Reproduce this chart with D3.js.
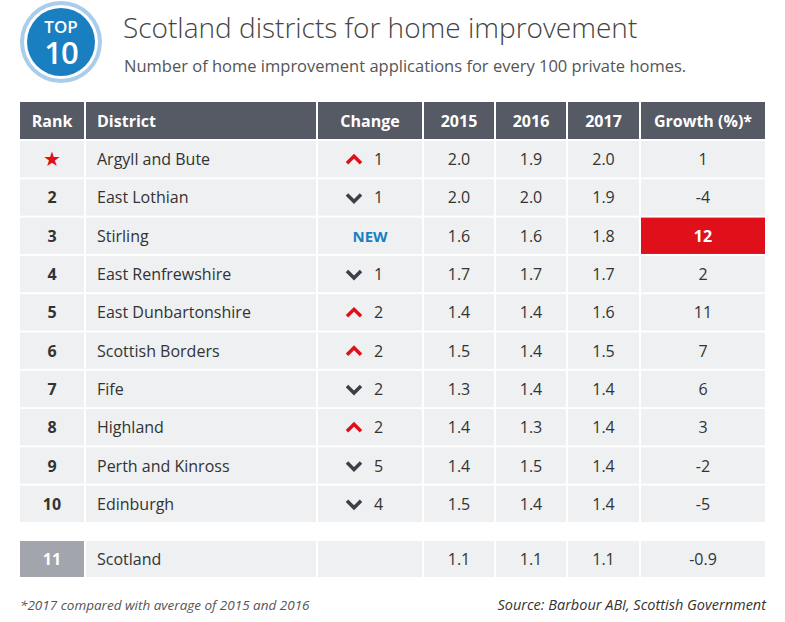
<!DOCTYPE html>
<html><head><meta charset="utf-8">
<script src="https://cdn.jsdelivr.net/npm/d3@7"></script>
<style>body{margin:0;background:#fff;font-family:"Open Sans","Noto Sans",sans-serif}</style>
</head><body><svg id="c" width="785" height="622"></svg>
<script>
const ranks = ['★','2','3','4','5','6','7','8','9','10'];
const districts = ['Argyll and Bute','East Lothian','Stirling','East Renfrewshire','East Dunbartonshire','Scottish Borders','Fife','Highland','Perth and Kinross','Edinburgh'];
const changeDir = ['up','down','new','down','up','up','down','up','down','down'];
const changeVal = [1,1,null,1,2,2,2,2,5,4];
const v2015 = ['2.0','2.0','1.6','1.7','1.4','1.5','1.3','1.4','1.4','1.5'];
const v2016 = ['1.9','2.0','1.6','1.7','1.4','1.4','1.4','1.3','1.5','1.4'];
const v2017 = ['2.0','1.9','1.8','1.7','1.6','1.5','1.4','1.4','1.4','1.4'];
const growth = ['1','-4','12','2','11','7','6','3','-2','-5'];
const headers = ['Rank','District','Change','2015','2016','2017','Growth (%)*'];
const totalRow = ['11','Scotland','','1.1','1.1','1.1','-0.9'];

const svg = d3.select('#c');
const colEdges = [20,86,318,424,496,568,641,767];
const x0 = i => colEdges[i], cw = i => colEdges[i+1]-colEdges[i]-2;
const y = d3.scaleBand().domain(d3.range(10)).range([141,522]).paddingInner(0.05).paddingOuter(0);

// badge
svg.append('circle').attr('cx',61).attr('cy',42).attr('r',41).attr('fill','#a9cdea');
svg.append('circle').attr('cx',61).attr('cy',42).attr('r',37).attr('fill','#fff');
svg.append('circle').attr('cx',61).attr('cy',42).attr('r',34).attr('fill','#1a7fc1');
svg.append('text').attr('x',61).attr('y',33).attr('text-anchor','middle').attr('fill','#fff').attr('font-size',17).attr('font-weight',600).text('TOP');
svg.append('text').attr('x',61).attr('y',64).attr('text-anchor','middle').attr('fill','#fff').attr('font-size',31).attr('font-weight',600).attr('letter-spacing',-1).text('10');
svg.append('text').attr('x',123).attr('y',38).attr('font-size',28).attr('font-weight',300).attr('fill','#444').text('Scotland districts for home improvement');
svg.append('text').attr('x',124).attr('y',72).attr('font-size',16.5).attr('fill','#555').text('Number of home improvement applications for every 100 private homes.');

// header
const hg = svg.append('g');
headers.forEach((h,i)=>{
  hg.append('rect').attr('x',x0(i)).attr('y',102).attr('width',cw(i)).attr('height',37).attr('fill','#555a64');
  hg.append('text').attr('x',i===1?x0(i)+11:x0(i)+cw(i)/2).attr('y',127).attr('text-anchor',i===1?'start':'middle')
    .attr('fill','#fff').attr('font-size',16).attr('font-weight',700).text(h);
});

function cellText(g,i,cy,t,opts={}){
  g.append('text').attr('x',i===1?x0(i)+11:x0(i)+cw(i)/2).attr('y',cy+6).attr('text-anchor',i===1?'start':'middle')
   .attr('font-size',16).attr('fill',opts.fill||'#333').attr('font-weight',opts.bold?700:400).text(t);
}

d3.range(10).forEach(r=>{
  const g = svg.append('g'), top=y(r), h=y.bandwidth(), cy=top+h/2;
  d3.range(7).forEach(i=>{
    g.append('rect').attr('x',x0(i)).attr('y',top).attr('width',cw(i)).attr('height',h)
     .attr('fill', (i===6 && r===2)?'#e0101b':'#eef0f2');
  });
  if(r===0) g.append('text').attr('x',x0(0)+cw(0)/2).attr('y',cy+7).attr('text-anchor','middle').attr('fill','#e0101b').attr('font-size',20).text('★');
  else cellText(g,0,cy,ranks[r],{bold:true});
  cellText(g,1,cy,districts[r]);
  const cx = x0(2)+cw(2)/2;
  if(changeDir[r]==='new'){
    g.append('text').attr('x',cx).attr('y',cy+6).attr('text-anchor','middle').attr('font-size',15).attr('font-weight',700).attr('fill','#1a7fc1').text('NEW');
  } else {
    const up = changeDir[r]==='up', ax=cx-16;
    const pts = up?[[ax-7,cy+4],[ax,cy-3],[ax+7,cy+4]]:[[ax-7,cy-3],[ax,cy+4],[ax+7,cy-3]];
    g.append('path').attr('d',d3.line()(pts)).attr('fill','none').attr('stroke',up?'#e0101b':'#3a3f48').attr('stroke-width',3.5);
    g.append('text').attr('x',cx+4).attr('y',cy+6).attr('font-size',16).attr('fill','#333').text(changeVal[r]);
  }
  cellText(g,3,cy,v2015[r]); cellText(g,4,cy,v2016[r]); cellText(g,5,cy,v2017[r]);
  if(r===2) cellText(g,6,cy,growth[r],{bold:true,fill:'#fff'}); else cellText(g,6,cy,growth[r]);
});

// total row
const tg = svg.append('g'), tt=541, th=36, tcy=tt+th/2;
totalRow.forEach((t,i)=>{
  tg.append('rect').attr('x',x0(i)).attr('y',tt).attr('width',cw(i)).attr('height',th).attr('fill',i===0?'#a2a5ab':'#eef0f2');
  if(i===0) cellText(tg,0,tcy,t,{bold:true,fill:'#fff'}); else cellText(tg,i,tcy,t);
});

svg.append('text').attr('x',20).attr('y',610).attr('font-size',13.5).attr('font-style','italic').attr('fill','#555').text('*2017 compared with average of 2015 and 2016');
svg.append('text').attr('x',766).attr('y',610).attr('text-anchor','end').attr('font-size',14.5).attr('font-style','italic').attr('fill','#333').text('Source: Barbour ABI, Scottish Government');
</script></body></html>
